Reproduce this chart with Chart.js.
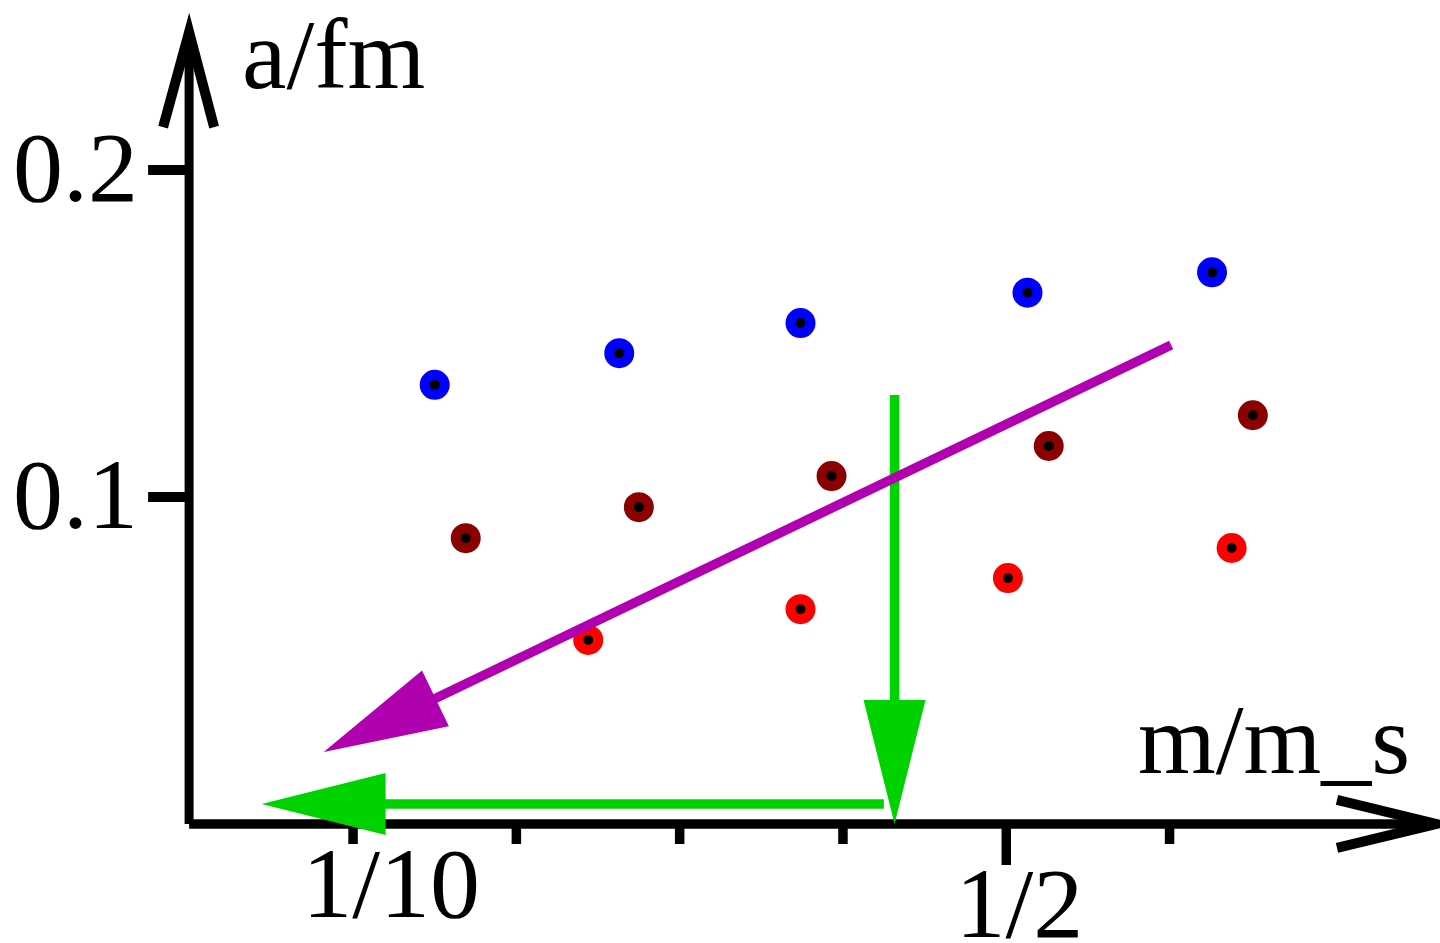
<!DOCTYPE html>
<html>
<head>
<meta charset="utf-8">
<script src="https://cdn.jsdelivr.net/npm/chart.js@4.4.1/dist/chart.umd.min.js"></script>
<style>
    html, body { margin: 0; padding: 0; background: #fff; }
    #wrap { width: 1440px; height: 943px; position: relative; }
</style>
</head>
<body>
<div id="wrap"><canvas id="scaleChart"></canvas></div>
<script>
// x is in tick units: 0 = 1/10, 4 = 1/2
const xTickValues = [0, 1, 2, 3, 4, 5];
const xTickLabels = ['1/10', '', '', '', '1/2', ''];
const yTickValues = [0.1, 0.2];
const yTickLabels = ['0.1', '0.2'];
const xTitle = 'm/m_s';
const yTitle = 'a/fm';

const blueX = [0.50, 1.63, 2.74, 4.13, 5.26];
const blueY = [0.1343, 0.1440, 0.1532, 0.1625, 0.1687];
const darkRedX = [0.69, 1.75, 2.93, 4.26, 5.51];
const darkRedY = [0.0874, 0.0969, 0.1064, 0.1156, 0.1250];
const redX = [1.44, 2.74, 4.01, 5.38];
const redY = [0.0563, 0.0657, 0.0752, 0.0844];

// arrows: [fromX, fromY, toX, toY]
const greenDown = [3.316, 0.1312, 3.316, 0.0];
const greenLeft = [3.25, 0.0061, -0.56, 0.0061];
const purpleArrow = [5.01, 0.1465, -0.18, 0.022];

const xRange = [-2.162, 6.656];
const yRange = [-0.0364, 0.252];
const yAxisAt = -1.004;
const yAxisTop = 0.2489;

const toPoints = (xs, ys) => xs.map((x, i) => ({ x: x, y: ys[i] }));
const FONT = '100px "Liberation Serif", "Times New Roman", serif';

function drawArrow(ctx, x1, y1, x2, y2, color) {
    const ang = Math.atan2(y2 - y1, x2 - x1);
    const headLen = 124, headHalf = 31;
    const bx = x2 - headLen * Math.cos(ang);
    const by = y2 - headLen * Math.sin(ang);
    ctx.save();
    ctx.strokeStyle = color;
    ctx.fillStyle = color;
    ctx.lineWidth = 9.5;
    ctx.lineCap = 'butt';
    ctx.beginPath();
    ctx.moveTo(x1, y1);
    ctx.lineTo(bx + Math.cos(ang) * 2, by + Math.sin(ang) * 2);
    ctx.stroke();
    ctx.beginPath();
    ctx.moveTo(x2, y2);
    ctx.lineTo(bx - headHalf * Math.sin(ang), by + headHalf * Math.cos(ang));
    ctx.lineTo(bx + headHalf * Math.sin(ang), by - headHalf * Math.cos(ang));
    ctx.closePath();
    ctx.fill();
    ctx.restore();
}

const axesPlugin = {
    id: 'axesPlugin',
    beforeDatasetsDraw(chart) {
        const ctx = chart.ctx;
        const xs = chart.scales.x, ys = chart.scales.y;
        const ax = xs.getPixelForValue(yAxisAt);
        const ay = ys.getPixelForValue(0);
        const top = ys.getPixelForValue(yAxisTop);
        const right = xs.getPixelForValue(xRange[1]);
        ctx.save();
        ctx.strokeStyle = '#000';
        ctx.fillStyle = '#000';
        ctx.lineWidth = 9;
        ctx.lineCap = 'butt';
        // y axis
        ctx.beginPath();
        ctx.moveTo(ax, ay);
        ctx.lineTo(ax, top + 30);
        ctx.stroke();
        ctx.lineWidth = 10;
        ctx.lineJoin = 'miter';
        ctx.miterLimit = 20;
        ctx.beginPath();
        ctx.moveTo(ax - 26, top + 117);
        ctx.lineTo(ax, top + 22);
        ctx.lineTo(ax + 25, top + 117);
        ctx.stroke();
        // x axis
        ctx.lineWidth = 9.5;
        ctx.beginPath();
        ctx.moveTo(ax, ay);
        ctx.lineTo(right - 10, ay);
        ctx.stroke();
        ctx.lineWidth = 10;
        ctx.beginPath();
        ctx.moveTo(right - 103, ay - 24);
        ctx.lineTo(right - 4, ay);
        ctx.lineTo(right - 103, ay + 24);
        ctx.stroke();
        // y ticks + labels
        ctx.font = FONT;
        ctx.textAlign = 'left';
        ctx.textBaseline = 'alphabetic';
        yTickValues.forEach((v, i) => {
            const py = ys.getPixelForValue(v);
            ctx.beginPath();
            ctx.moveTo(ax - 41, py);
            ctx.lineTo(ax, py);
            ctx.stroke();
            ctx.fillText(yTickLabels[i], 13, py + 31);
        });
        // x ticks + labels
        ctx.lineWidth = 9.5;
        xTickValues.forEach((v, i) => {
            const px = xs.getPixelForValue(v);
            const len = xTickLabels[i] === '1/2' ? 41 : 20;
            ctx.beginPath();
            ctx.moveTo(px, ay);
            ctx.lineTo(px, ay + len);
            ctx.stroke();
        });
        ctx.textAlign = 'center';
        const nudge = { '1/10': [38, 93], '1/2': [13, 113] };
        xTickValues.forEach((v, i) => {
            const lab = xTickLabels[i];
            if (!lab) return;
            const px = xs.getPixelForValue(v);
            ctx.fillText(lab, px + nudge[lab][0], ay + nudge[lab][1]);
        });
        // axis titles
        ctx.textAlign = 'left';
        ctx.fillText(yTitle, 242, 88);
        ctx.fillText(xTitle, 1138, 773);
        ctx.restore();
    },
    afterDatasetsDraw(chart) {
        const ctx = chart.ctx;
        const xs = chart.scales.x, ys = chart.scales.y;
        const arrow = (a, color) => drawArrow(ctx,
            xs.getPixelForValue(a[0]), ys.getPixelForValue(a[1]),
            xs.getPixelForValue(a[2]), ys.getPixelForValue(a[3]), color);
        arrow(greenDown, '#00d200');
        arrow(greenLeft, '#00d200');
        arrow(purpleArrow, '#b000b0');
    }
};

const pointStyle = (color) => ({
    showLine: false,
    pointRadius: 10,
    pointHoverRadius: 10,
    pointBorderWidth: 10,
    pointBorderColor: color,
    pointBackgroundColor: '#000',
    borderColor: color,
    backgroundColor: '#000'
});

new Chart(document.getElementById('scaleChart').getContext('2d'), {
    type: 'scatter',
    data: {
        datasets: [
            Object.assign({ label: 'blue', data: toPoints(blueX, blueY) }, pointStyle('#0000ff')),
            Object.assign({ label: 'dark red', data: toPoints(darkRedX, darkRedY) }, pointStyle('#8b0000')),
            Object.assign({ label: 'red', data: toPoints(redX, redY) }, pointStyle('#ff0000'))
        ]
    },
    options: {
        responsive: true,
        maintainAspectRatio: false,
        animation: false,
        layout: { padding: 0, autoPadding: false },
        scales: {
            x: { type: 'linear', display: false, min: xRange[0], max: xRange[1] },
            y: { type: 'linear', display: false, min: yRange[0], max: yRange[1] }
        },
        plugins: {
            legend: { display: false },
            tooltip: { enabled: false }
        }
    },
    plugins: [axesPlugin]
});
</script>
</body>
</html>
